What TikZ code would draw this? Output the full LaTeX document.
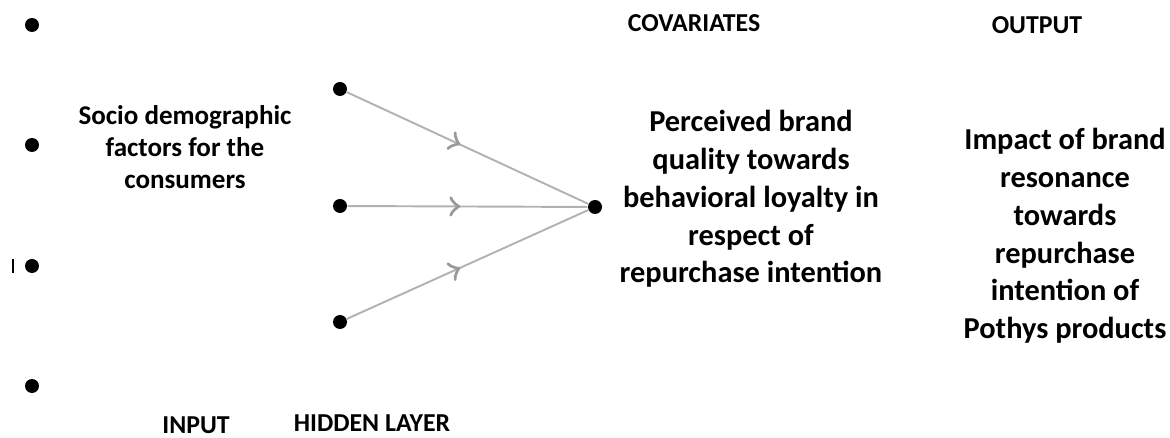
\documentclass[tikz,border=0pt]{standalone}
\usepackage{fontspec}
\setmainfont{Carlito}
\usetikzlibrary{arrows, positioning, decorations.markings}

\begin{document}
\begin{tikzpicture}[
  x = 0.02cm, y = -0.02cm,     % one unit = one pixel of the sketch
  > = to,                      % open arrow head
  semithick
  ]

  \tikzstyle{dot}=[      % Defines style for the black units
  circle,
  fill = black,
  inner sep = 0pt,
  minimum width = 2.8mm,
  minimum height = 2.3mm
  ]

  \tikzstyle{link}=[     % grey line with an arrow half way
  draw = black!30,
  line width = 1.1pt,
  decoration = {markings, mark = at position 0.47 with {\arrow[black!40, line width=0.8pt, scale=2.4]{>}}},
  postaction = {decorate}
  ]

  \tikzstyle{head}=[font = \bfseries\fontsize{14.7}{17}\selectfont]
  \tikzstyle{txt}=[align = center, font = \bfseries\fontsize{15.4}{18}\selectfont]
  \tikzstyle{bigtxt}=[align = center, font = \bfseries\fontsize{17.3}{21.5}\selectfont]

  \useasboundingbox (0,0) rectangle (1170,438);

  % input layer
  \node[dot] (i1) at (32,25) {};
  \node[dot] (i2) at (32,145) {};
  \node[dot] (i3) at (32,266) {};
  \node[dot] (i4) at (32,386) {};
  \draw[thick] (13,259) -- (13,273);

  % hidden layer
  \node[dot] (h1) at (340,89) {};
  \node[dot] (h2) at (340,206) {};
  \node[dot] (h3) at (340,322) {};

  % output unit
  \node[dot] (o) at (595,207) {};

  \path[link] (h1) -- (o);
  \path[link] (h2) -- (o);
  \path[link] (h3) -- (o);

  % texts
  \node[txt] (socio) at (185,147) {Socio demographic\\factors for the\\consumers};
  \node[bigtxt] (perc) at (751,199) {Perceived brand\\quality towards\\behavioral loyalty in\\respect of\\repurchase intention};
  \node[bigtxt] (impact) at (1065,236) {Impact of brand\\resonance\\towards\\repurchase\\intention of\\Pothys products};

  \node[head] (cov) at (694,23) {COVARIATES};
  \node[head] (out) at (1037,25) {OUTPUT};
  \node[head, anchor=base, inner sep=0pt] (inp) at (196,434) {INPUT};
  \node[head, anchor=base, inner sep=0pt] (hid) at (372,432) {HIDDEN LAYER};
\end{tikzpicture}
\end{document}
